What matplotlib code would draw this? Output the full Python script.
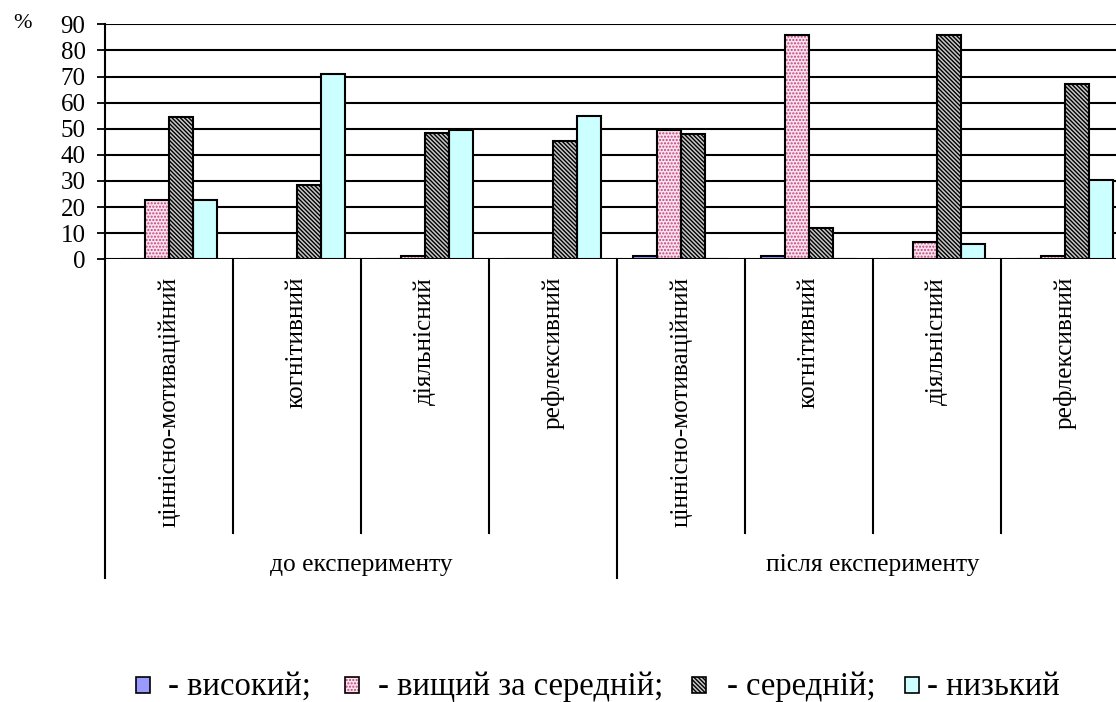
import matplotlib
matplotlib.use("Agg")
import matplotlib.pyplot as plt
from matplotlib.patches import Rectangle
from matplotlib.transforms import blended_transform_factory
import numpy as np

plt.rcParams['font.family'] = ['Liberation Serif', 'DejaVu Serif']
plt.rcParams['hatch.linewidth'] = 1.0

categories = ["ціннісно-мотиваційний", "когнітивний", "діяльнісний", "рефлексивний",
              "ціннісно-мотиваційний", "когнітивний", "діяльнісний", "рефлексивний"]
groups = ["до експерименту", "після експерименту"]
series_names = ["- високий;", "- вищий за середній;", "- середній;", "- низький"]
high =       [0,    0,    0,    0,    1.3,  1.3,  0,    0]
above_avg =  [22.7, 0,    1.3,  0,    49.5, 86.0, 6.5,  1.3]
average =    [54.5, 28.5, 48.3, 45.2, 48.1, 11.9, 86.0, 67.0]
low =        [22.7, 71.0, 49.6, 55.0, 0,    0,    5.7,  30.5]
yticks = [0, 10, 20, 30, 40, 50, 60, 70, 80, 90]

series = [high, above_avg, average, low]
faces = ['#9999FF', '#FBE3EE', '#C8C8C8', '#CCFFFF']
hatch_colors = [None, '#C04080', '#000000', None]
hatches = [None, '.' * 5, '\\' * 8, None]

fig = plt.figure(figsize=(11.16, 7.02), dpi=100)
W, H = 1116, 702
x0, x1 = 105, 1129
y0, y1 = 259.3, 24.3
ax = fig.add_axes([x0 / W, 1 - y0 / H, (x1 - x0) / W, (y0 - y1) / H])

x = np.arange(len(categories))
bw = 0.1875
for i, vals in enumerate(series):
    pos = x + (i - 1.5) * bw
    if hatches[i]:
        ax.bar(pos, vals, bw, color=faces[i], edgecolor=hatch_colors[i], hatch=hatches[i],
               linewidth=0, zorder=3)
        ax.bar(pos, vals, bw, fill=False, edgecolor='black', linewidth=1.5, zorder=4)
    else:
        ax.bar(pos, vals, bw, color=faces[i], edgecolor='black', linewidth=1.5, zorder=3)

ax.set_xlim(-0.5, len(categories) - 0.5)
ax.set_ylim(0, 90)
ax.set_yticks(yticks)
ax.set_yticklabels([str(t) for t in yticks], fontsize=18)
ax.tick_params(axis='y', length=6, width=1.3, pad=8, direction='out')
ax.set_xticks([])
ax.yaxis.grid(True, color='black', linewidth=1.5, zorder=0)
ax.set_axisbelow(True)
for s in ['top', 'right', 'bottom']:
    ax.spines[s].set_visible(False)
ax.spines['left'].set_linewidth(1.5)

tr = blended_transform_factory(ax.transData, ax.transAxes)
scale = y0 - y1
cat_bottom = -(533 - y0) / scale
grp_bottom = -(578 - y0) / scale
for k in range(1, len(categories)):
    yb = grp_bottom if k == 4 else cat_bottom
    ax.plot([k - 0.5, k - 0.5], [0, yb], transform=tr, color='black', lw=1.5, clip_on=False)
ax.plot([-0.5, -0.5], [0, grp_bottom], transform=tr, color='black', lw=1.5, clip_on=False)
ax.plot([7.5, 7.5], [0, grp_bottom], transform=tr, color='black', lw=1.5, clip_on=False)

lab_y = -(277 - y0) / scale
for k, c in enumerate(categories):
    ax.text(k, lab_y, c, transform=tr, rotation=90, ha='center', va='top', fontsize=18.2)
grp_y = -(565 - y0) / scale
for g, name in enumerate(groups):
    ax.text(g * 4 + 1.5, grp_y, name, transform=tr, ha='center', va='center', fontsize=18.4)

fig.text(22 / W, 1 - 24 / H, '%', fontsize=16, ha='center', va='center')

# legend (manual placement)
sq_x = [136, 345, 692, 905]
txt_x = [168, 378, 727, 927]
sq_w, sq_top, sq_bot = 14, 677, 693
base_y = 695
for i in range(4):
    xy = (sq_x[i] / W, 1 - sq_bot / H)
    w, h = sq_w / W, (sq_bot - sq_top) / H
    if hatches[i]:
        fig.patches.append(Rectangle(xy, w, h, transform=fig.transFigure, facecolor=faces[i],
                                     edgecolor=hatch_colors[i], hatch=hatches[i], linewidth=0))
        fig.patches.append(Rectangle(xy, w, h, transform=fig.transFigure, fill=False,
                                     edgecolor='black', linewidth=1.2))
    else:
        fig.patches.append(Rectangle(xy, w, h, transform=fig.transFigure, facecolor=faces[i],
                                     edgecolor='black', linewidth=1.2))
    fig.text(txt_x[i] / W, 1 - base_y / H, series_names[i], fontsize=23.5,
             ha='left', va='baseline')

fig.savefig('out.png', dpi=100)
